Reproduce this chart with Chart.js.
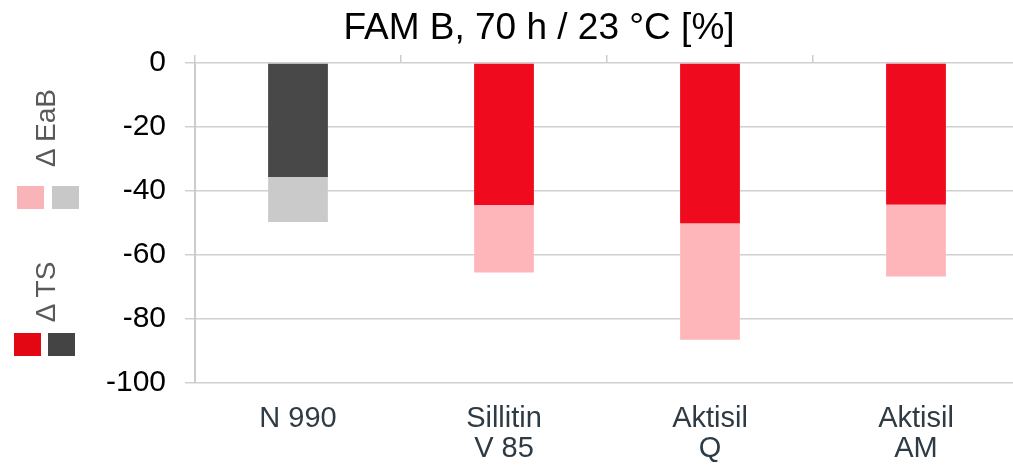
<!DOCTYPE html>
<html>
<head>
<meta charset="utf-8">
<script src="https://cdn.jsdelivr.net/npm/chart.js@4"></script>
<style>
  html, body { margin: 0; padding: 0; background: #fff; overflow: hidden; }
  body { width: 1013px; height: 465px; position: relative; font-family: "Liberation Sans", Arial, sans-serif; }
  #wrap { position: absolute; left: 0; top: 0; width: 1024px; height: 465px; }
  #title { position: absolute; top: 6px; left: 339px; width: 400px; text-align: center; font-size: 37px; color: #000; white-space: nowrap; }
  .legText { position: absolute; font-size: 28px; color: #595959; white-space: nowrap; transform: translate(-50%, -50%) rotate(-90deg); }
  .sw { position: absolute; width: 27px; height: 23px; }
</style>
</head>
<body>
<div id="wrap"><canvas id="chart"></canvas></div>
<div id="title">FAM B, 70 h / 23 °C [%]</div>
<div class="legText" style="left:46px; top:128px;">Δ EaB</div>
<div class="sw" style="left:17px; top:186px; background:#f8b4b8;"></div>
<div class="sw" style="left:52px; top:186px; background:#c8c8c8;"></div>
<div class="legText" style="left:46px; top:292px;">Δ TS</div>
<div class="sw" style="left:14px; top:333px; background:#e30613;"></div>
<div class="sw" style="left:48px; top:333px; background:#444444;"></div>
<script>
const categories = [["N 990"], ["Sillitin", "V 85"], ["Aktisil", "Q"], ["Aktisil", "AM"]];
const deltaTS = [-35.6, -44.4, -50.1, -44.2];
const deltaEaB = [-49.7, -65.5, -86.5, -66.7];
const yTicks = [0, -20, -40, -60, -80, -100];

const tsColors = ["#484848", "#f00a1e", "#f00a1e", "#f00a1e"];
const eabColors = ["#cacaca", "#ffb6ba", "#ffb6ba", "#ffb6ba"];

const ctx = document.getElementById("chart");

new Chart(ctx, {
  type: "bar",
  data: {
    labels: categories,
    datasets: [
      {
        label: "Δ TS",
        data: deltaTS,
        backgroundColor: tsColors,
        grouped: false,
        order: 0,
      },
      {
        label: "Δ EaB",
        data: deltaEaB,
        backgroundColor: eabColors,
        grouped: false,
        order: 1,
      },
    ],
  },
  options: {
    responsive: true,
    maintainAspectRatio: false,
    animation: false,
    barPercentage: 0.29,
    categoryPercentage: 1,
    layout: { padding: { top: 55, right: 5, bottom: 0, left: 0 } },
    plugins: {
      legend: { display: false },
      title: { display: false },
      tooltip: { enabled: false },
    },
    scales: {
      x: {
        position: "bottom",
        grid: { display: false },
        border: { display: false },
        ticks: {
          color: "#2e3a44",
          font: { family: "Liberation Sans", size: 29, lineHeight: 1.04 },
          padding: 13,
          maxRotation: 0,
          autoSkip: false,
        },
        afterFit: (scale) => { scale.height = 82; },
      },
      xTop: {
        type: "category",
        position: "top",
        labels: categories,
        offset: true,
        grid: { offset: true, drawOnChartArea: false, tickLength: 8, color: "#cccccc", lineWidth: 1.5 },
        border: { display: false },
        ticks: { display: false },
      },
      y: {
        min: -100,
        max: 0,
        afterBuildTicks: (scale) => { scale.ticks = yTicks.map((v) => ({ value: v })); },
        grid: { color: "#d0d0d0", lineWidth: 1.5, tickLength: 10 },
        border: { display: true, color: "#cccccc", width: 2 },
        ticks: {
          color: "#000",
          font: { family: "Liberation Sans", size: 30 },
          padding: 19,
        },
        afterFit: (scale) => { scale.width = 195; },
      },
    },
  },
});
</script>
</body>
</html>
